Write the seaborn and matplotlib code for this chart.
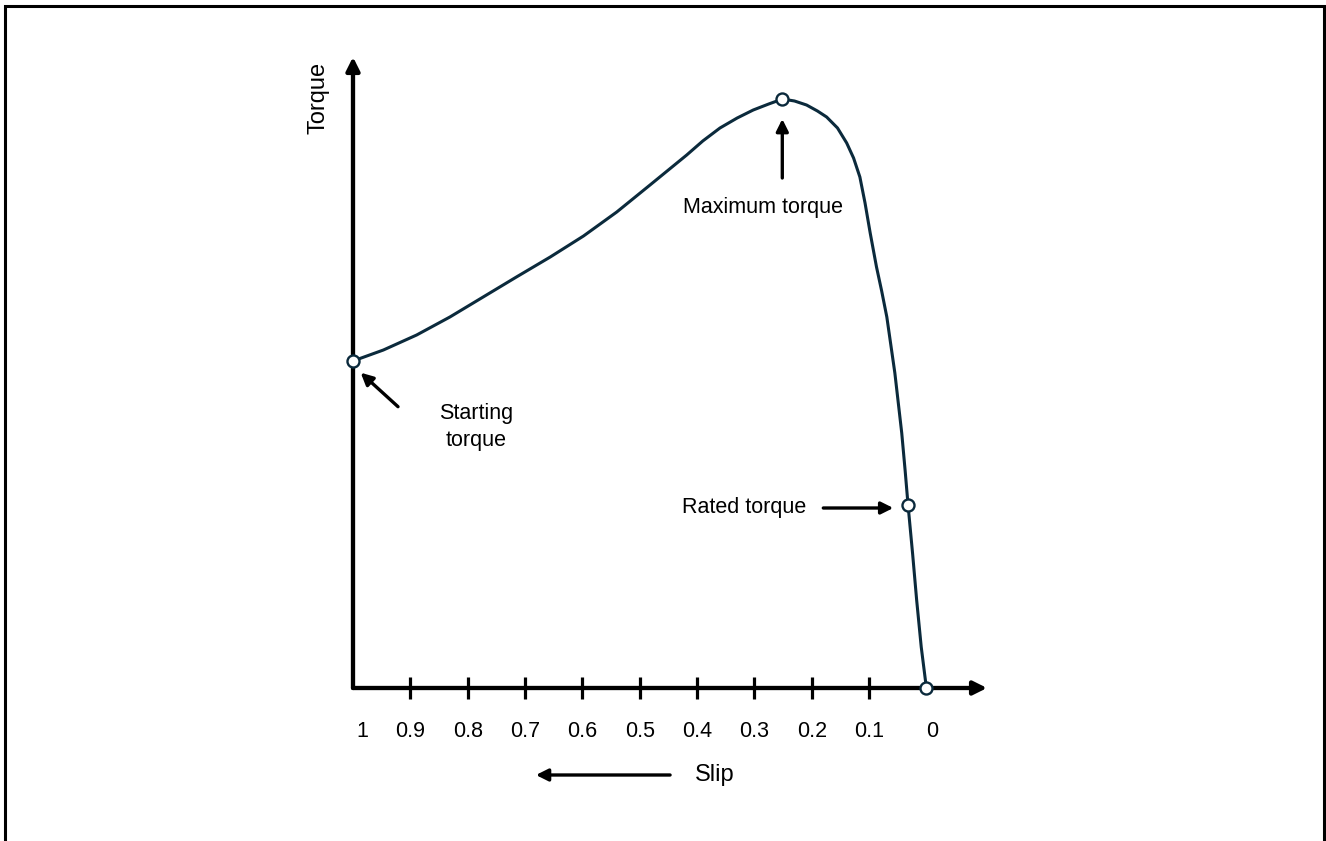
import matplotlib
matplotlib.use("Agg")
import matplotlib.pyplot as plt
from matplotlib.patches import Rectangle
from matplotlib.transforms import ScaledTranslation
import seaborn as sns
import pandas as pd

# torque-slip curve (arbitrary torque units)
slip = [1.0, 0.947, 0.889, 0.831, 0.773, 0.715, 0.656, 0.598, 0.540, 0.482,
        0.450, 0.418, 0.390, 0.360, 0.330, 0.302, 0.275, 0.251, 0.230, 0.209,
        0.190, 0.174, 0.155, 0.139, 0.127, 0.116, 0.107, 0.098, 0.087, 0.078,
        0.069, 0.062, 0.055, 0.049, 0.043, 0.037, 0.032, 0.024, 0.017, 0.009,
        0.0]
torque = [3.27, 3.38, 3.53, 3.71, 3.91, 4.11, 4.31, 4.52, 4.76, 5.03,
          5.18, 5.33, 5.47, 5.60, 5.70, 5.78, 5.84, 5.89, 5.87, 5.83,
          5.77, 5.71, 5.60, 5.45, 5.30, 5.11, 4.85, 4.55, 4.21, 3.97,
          3.71, 3.43, 3.15, 2.85, 2.55, 2.17, 1.83, 1.34, 0.88, 0.41,
          0.0]

# highlighted points: starting, maximum, rated, zero torque
key_slip = [1.0, 0.251, 0.032, 0.0]
key_torque = [3.27, 5.89, 1.83, 0.0]

xtick_vals = [1, 0.9, 0.8, 0.7, 0.6, 0.5, 0.4, 0.3, 0.2, 0.1, 0]
xtick_labels = ["1", "0.9", "0.8", "0.7", "0.6", "0.5", "0.4", "0.3", "0.2", "0.1", "0"]

curve_color = "#0b2a3c"

sns.set_style("white")
plt.rcParams["font.family"] = ["Liberation Sans", "DejaVu Sans"]
plt.rcParams["text.color"] = "black"
plt.rcParams["xtick.color"] = "black"
plt.rcParams["xtick.labelcolor"] = "black"

W, H = 1326, 841
fig = plt.figure(figsize=(W / 100, H / 100), dpi=100)
ax = fig.add_axes([353 / W, (H - 688) / H, (987 - 353) / W, (688 - 57) / H])
ax.set_xlim(1.0, -0.1057)
ax.set_ylim(0, 6.31)
for s in ax.spines.values():
    s.set_visible(False)

df = pd.DataFrame({"slip": slip, "torque": torque})
sns.lineplot(data=df, x="slip", y="torque", ax=ax, color=curve_color,
             linewidth=2.2, zorder=3)

keys = pd.DataFrame({"slip": key_slip, "torque": key_torque})
sns.scatterplot(data=keys, x="slip", y="torque", ax=ax, s=75, color="white",
                edgecolor=curve_color, linewidth=1.7, zorder=5, clip_on=False)

# axis lines with arrow heads
axis_arrow = dict(arrowstyle="-|>", lw=3.1, color="black", mutation_scale=20,
                  shrinkA=0, shrinkB=0)
ax.annotate("", xy=(1, 0), xytext=(0, 0), xycoords="axes fraction",
            arrowprops=axis_arrow, zorder=4)
ax.annotate("", xy=(0, 1), xytext=(0, 0), xycoords="axes fraction",
            arrowprops=axis_arrow, zorder=4)

ax.set_xticks(xtick_vals)
ax.set_xticklabels(xtick_labels, fontsize=15.5, color="black")
ax.set_yticks([])
ax.tick_params(axis="x", bottom=True, direction="inout", length=16, width=2.3,
               color="black", pad=16)
ticks = ax.xaxis.get_major_ticks()
for t in (ticks[0], ticks[-1]):
    t.tick1line.set_visible(False)
ticks[0].label1.set_transform(ticks[0].label1.get_transform()
                              + ScaledTranslation(0.09, 0, fig.dpi_scale_trans))
ticks[-1].label1.set_transform(ticks[-1].label1.get_transform()
                               + ScaledTranslation(0.06, 0, fig.dpi_scale_trans))
ax.set_xlabel("")
ax.set_ylabel("")

note_arrow = dict(arrowstyle="-|>", lw=2.4, color="black", mutation_scale=18,
                  shrinkA=0, shrinkB=0)

ax.annotate("", xy=(0.9866, 3.153), xytext=(0.9215, 2.813),
            arrowprops=note_arrow, annotation_clip=False)
ax.text(0.785, 2.61, "Starting\ntorque", fontsize=15.5, ha="center",
        va="center", linespacing=1.35, color="black")

ax.annotate("", xy=(0.2513, 5.69), xytext=(0.2513, 5.10),
            arrowprops=note_arrow, annotation_clip=False)
ax.text(0.285, 4.80, "Maximum torque", fontsize=15.5, ha="center",
        va="center", color="black")

ax.annotate("", xy=(0.0577, 1.80), xytext=(0.1798, 1.80),
            arrowprops=note_arrow, annotation_clip=False)
ax.text(0.2088, 1.81, "Rated torque", fontsize=15.5, ha="right", va="center",
        color="black")

ax.annotate("", xy=(0.681, -0.87), xytext=(0.447, -0.87),
            arrowprops=note_arrow, annotation_clip=False)
ax.text(0.4036, -0.87, "Slip", fontsize=17, ha="left", va="center",
        clip_on=False, color="black")

ax.text(1.061, 5.90, "Torque", fontsize=17, ha="center", va="center",
        rotation=90, clip_on=False, color="black")

# frame around the picture (bottom edge runs off the image)
fig.patches.append(Rectangle((4.7 / W, -0.05), (1324.3 - 4.7) / W,
                             1.05 - 5.8 / H, transform=fig.transFigure,
                             fill=False, edgecolor="black", linewidth=2.2))

fig.savefig("out.png", dpi=100)
